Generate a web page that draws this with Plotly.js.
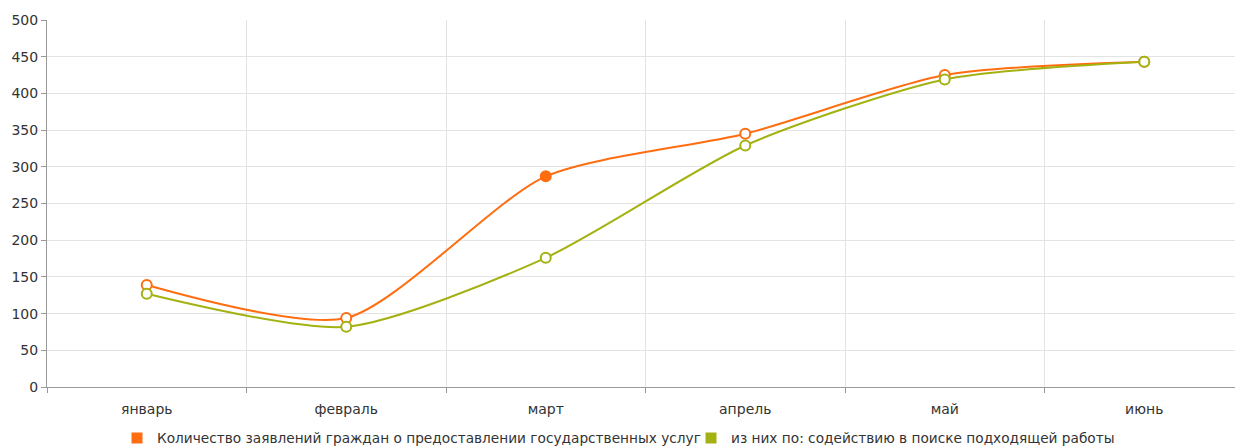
<!DOCTYPE html>
<html><head><meta charset="utf-8">
<script src="https://cdn.plot.ly/plotly-3.0.1.min.js"></script>
<style>html,body{margin:0;padding:0;overflow:hidden;background:#fff;width:1235px;height:448px}#chart{width:1252px;height:448px}</style>
</head><body><div id="chart"></div>
<script>
const months = ["январь","февраль","март","апрель","май","июнь"];
const seriesNames = ["Количество заявлений граждан о предоставлении государственных услуг","из них по: содействию в поиске подходящей работы"];
const applications = [139, 94, 287, 345, 425, 443];
const jobSearch = [127, 82, 176, 329, 419, 443];
const yTicks = [0,50,100,150,200,250,300,350,400,450,500];

const orange = "#ff6d10", green = "#a3b210";
const W = 1252, H = 448;
const xi = months.map((m,i)=>i);
const bounds = [-0.5,0.5,1.5,2.5,3.5,4.5,5.5];
const FONT = "DejaVu Sans, Liberation Sans, Arial, sans-serif";

const traces = [
  {x: xi, y: applications, mode: "lines+markers", line:{shape:"spline", smoothing:0.7, color:orange, width:2},
   marker:{size:10, symbol:"circle", color: applications.map((v,i)=> i===2? orange : "#fff"), line:{color:orange, width:2}}, showlegend:false, hoverinfo:"skip"},
  {x: xi, y: jobSearch, mode: "lines+markers", line:{shape:"spline", smoothing:0.7, color:green, width:2},
   marker:{size:10, symbol:"circle", color:"#fff", line:{color:green, width:2}}, showlegend:false, hoverinfo:"skip"},
  {x:[null], y:[null], mode:"markers", name: seriesNames[0], legend:"legend", marker:{symbol:"square", size:11, color:orange}},
  {x:[null], y:[null], mode:"markers", name: seriesNames[1], legend:"legend2", marker:{symbol:"square", size:11, color:green}},
  {x: bounds, y: bounds.map(()=>null), xaxis:"x2", mode:"markers", showlegend:false, hoverinfo:"skip"}
];

const legendBase = {orientation:"h", xref:"container", yref:"container", yanchor:"middle", xanchor:"left",
  y: 1 - 438/H, font:{family:FONT, size:13.7, color:"#333"}, bgcolor:"rgba(0,0,0,0)", itemwidth:30};

const layout = {
  width:W, height:H,
  margin:{l:47, r:8, t:20, b:61, autoexpand:false},
  paper_bgcolor:"#fff", plot_bgcolor:"#fff",
  font:{family:FONT, size:14, color:"#333"},
  xaxis:{range:[-0.5,5.5], tickvals:xi, ticktext:months, showgrid:false, zeroline:false,
         showline:true, linecolor:"#999", linewidth:1, ticks:"", tickfont:{size:14,color:"#333"}, ticklabelstandoff:9},
  xaxis2:{range:[-0.5,5.5], overlaying:"x", tickvals:bounds, showticklabels:false, showgrid:true, gridcolor:"#e3e3e3",
          gridwidth:1, ticks:"outside", ticklen:5, tickcolor:"#999", zeroline:false, side:"bottom", anchor:"y"},
  yaxis:{range:[0,500], tickvals:yTicks, showgrid:true, gridcolor:"#e3e3e3", zeroline:false, showline:true,
         linecolor:"#999", linewidth:1, ticks:"outside", ticklen:5, tickcolor:"#999", tickfont:{size:14,color:"#333"}},
  legend: Object.assign({}, legendBase, {x:(137-20)/W}),
  legend2: Object.assign({}, legendBase, {x:(711-20)/W}),
  showlegend:true
};
Plotly.newPlot("chart", traces, layout, {staticPlot:true});
</script></body></html>
